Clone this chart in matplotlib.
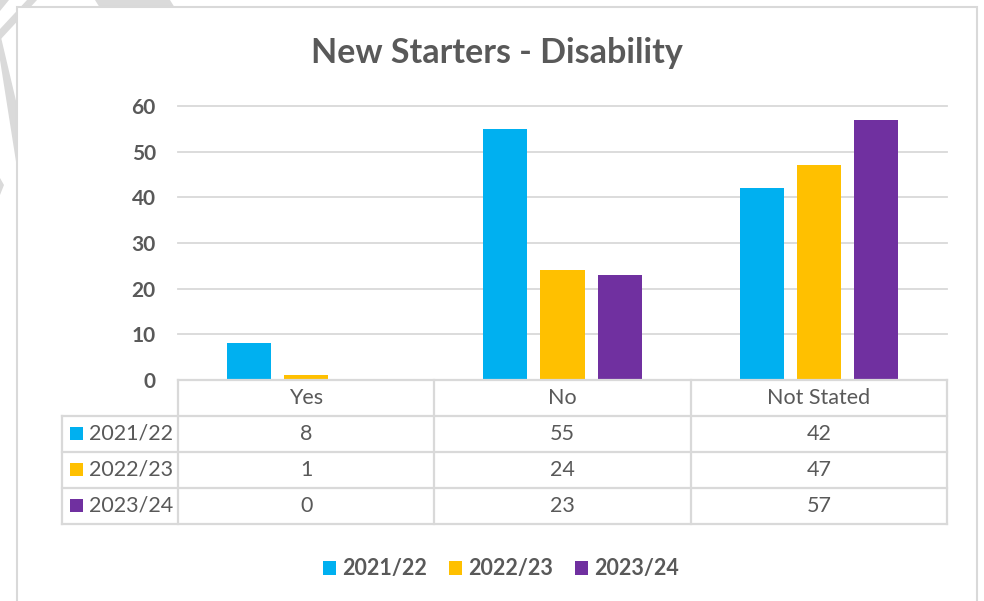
import matplotlib
matplotlib.use("Agg")
import matplotlib.pyplot as plt
from matplotlib.patches import Rectangle, Polygon
import numpy as np

categories = ["Yes", "No", "Not Stated"]
series_names = ["2021/22", "2022/23", "2023/24"]
values_2021 = [8, 55, 42]
values_2022 = [1, 24, 47]
values_2023 = [0, 23, 57]
series_values = [values_2021, values_2022, values_2023]
colors = ["#00B0F0", "#FFC000", "#7030A0"]
title = "New Starters - Disability"
yticks = [0, 10, 20, 30, 40, 50, 60]

W, H = 984, 601
TXT = "#595959"
GRID = "#D9D9D9"
FONT = "Lato"

fig = plt.figure(figsize=(W / 100, H / 100), dpi=100)
fig.patch.set_facecolor("white")

def fx(x):
    return x / W

def fy(y):
    return 1 - y / H

# watermark fragments (background decoration)
wm = fig.add_axes([0, 0, 1, 1], zorder=-5)
wm.set_xlim(0, W)
wm.set_ylim(H, 0)
wm.axis("off")
for pts in [
    [(0, 0), (9, 0), (0, 11)],
    [(27, 0), (37, 0), (0, 40), (0, 29)],
    [(0, 33), (17, 105), (17, 168), (0, 60)],
    [(95, 0), (170, 0), (175, 8), (100, 8)],
    [(0, 178), (4, 185), (0, 195)],
]:
    wm.add_patch(Polygon(pts, closed=True, facecolor="#DADADA", edgecolor="none"))
# chart border
wm.add_patch(Rectangle((17, 7), 960, 620, facecolor="white", edgecolor=GRID, linewidth=1.5))

# main plot axes
L, R, TOP, BOT = 178, 947, 106, 380
ax = fig.add_axes([fx(L), fy(BOT), (R - L) / W, (BOT - TOP) / H])
ax.set_facecolor("none")
n = len(categories)
x = np.arange(n)
width = 44 / 256
step = 57 / 256
for i, (name, vals, c) in enumerate(zip(series_names, series_values, colors)):
    ax.bar(x + (i - 1) * step, vals, width=width, color=c, label=name, zorder=3)
ax.set_xlim(-0.5, n - 0.5)
ax.set_ylim(0, 60)
ax.set_yticks(yticks)
ax.set_yticklabels([str(t) for t in yticks], fontsize=15, fontweight="bold",
                   color=TXT, family=FONT)
ax.tick_params(axis="y", length=0, pad=16)
ax.set_xticks([])
for s in ax.spines.values():
    s.set_visible(False)
for t in yticks[1:]:
    ax.axhline(t, color=GRID, linewidth=1.3, zorder=1, clip_on=False)

fig.text(fx(497), fy(53), title, ha="center", va="center", fontsize=24.5,
         fontweight="bold", color=TXT, family=FONT)

# data table
TL, TR, T0, T1 = 62, 947, 380, 524
tax = fig.add_axes([fx(TL), fy(T1), (TR - TL) / W, (T1 - T0) / H])
tax.set_xlim(TL, TR)
tax.set_ylim(T1, T0)
tax.axis("off")
rowh = (T1 - T0) / (len(series_names) + 1)
colw = (R - L) / n
lw = 1.6
FS = 15.5
tax.plot([L, R], [T0, T0], color=GRID, lw=lw, clip_on=False)
for r in range(1, len(series_names) + 2):
    yy = T0 + r * rowh
    tax.plot([TL, R], [yy, yy], color=GRID, lw=lw, clip_on=False)
tax.plot([TL, TL], [T0 + rowh, T1], color=GRID, lw=lw, clip_on=False)
for c in range(n + 1):
    xx = L + c * colw
    tax.plot([xx, xx], [T0, T1], color=GRID, lw=lw, clip_on=False)
for c, cat in enumerate(categories):
    tax.text(L + (c + 0.5) * colw, T0 + rowh / 2, cat, ha="center", va="center",
             fontsize=FS, color=TXT, family=FONT)
for r, (name, vals, col) in enumerate(zip(series_names, series_values, colors)):
    yc = T0 + (r + 1.5) * rowh
    tax.add_patch(Rectangle((70, yc - 7), 13, 13, facecolor=col, edgecolor="none"))
    tax.text(89, yc, name, ha="left", va="center", fontsize=FS, color=TXT, family=FONT)
    for c, v in enumerate(vals):
        tax.text(L + (c + 0.5) * colw, yc, str(v), ha="center", va="center",
                 fontsize=FS, color=TXT, family=FONT)

# legend
handles = [Rectangle((0, 0), 1, 1, facecolor=c, edgecolor="none") for c in colors]
fig.legend(handles, series_names, loc="center", bbox_to_anchor=(fx(501), fy(569)),
           ncol=3, frameon=False, handlelength=0.6, handleheight=0.6,
           handletextpad=0.3, columnspacing=1.0,
           prop={"family": FONT, "weight": "bold", "size": 15.5}, labelcolor=TXT)

fig.savefig("out.png", dpi=100, facecolor="white")
